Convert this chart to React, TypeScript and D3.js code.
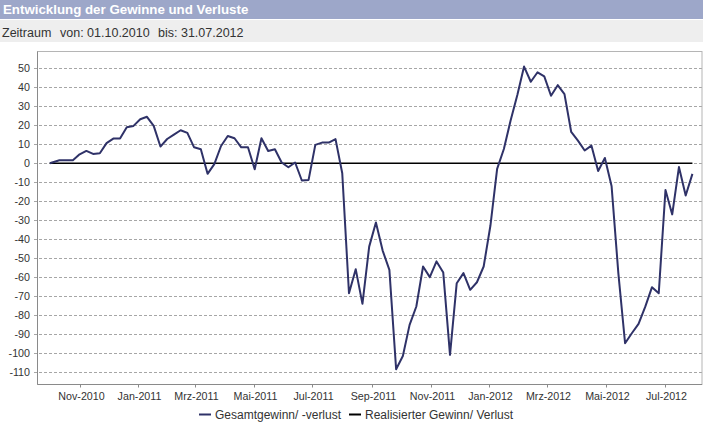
import React from "react";
import * as d3 from "d3";

const W = 703;
const H = 425;

const titleText = "Entwicklung der Gewinne und Verluste";
const periodLabel = "Zeitraum";
const periodFrom = "von: 01.10.2010";
const periodTo = "bis: 31.07.2012";

const firstDate = "2010-10-01";
const weeklyStart = "2010-10-11";
const domainStart = "2010-10-01";
const domainEnd = "2012-07-31";

const gesamt = [
  0, 1.6, 1.6, 1.6, 4.7, 6.5, 4.9, 5.3, 10.6, 13,
  13, 19, 19.7, 23.2, 24.5, 19.7, 8.8, 12.8, 15.1, 17.4,
  16, 8.4, 7.4, -5.6, -0.5, 9.1, 14.4, 13.2, 8.4, 8.4,
  -3.2, 13.2, 6.5, 7.4, 0.4, -2.1, 0.4, -9.1, -8.8, 9.7,
  10.9, 10.9, 12.7, -5.3, -68.6, -55.9, -74.2, -44, -31.3, -46.1,
  -56.3, -108.7, -101.7, -85.3, -75.6, -54.5, -60.1, -51.8, -57.7, -101.1,
  -63.3, -58, -66.8, -62.8, -54.5, -33, -3, 7.5, 22.5, 36,
  51, 43, 48, 45.8, 35.6, 41.2, 36.5, 16.5, 11.9, 6.7,
  9.3, -4.1, 2.8, -12.2, -58, -95, -89.7, -84.8, -75.7, -65.4,
  -68.6, -14.1, -27, -2, -17, -5.6,
];

const realisiert = [
  0, 0, 0, 0, 0, 0, 0, 0, 0, 0,
  0, 0, 0, 0, 0, 0, 0, 0, 0, 0,
  0, 0, 0, 0, 0, 0, 0, 0, 0, 0,
  0, 0, 0, 0, 0, 0, 0, 0, 0, 0,
  0, 0, 0, 0, 0, 0, 0, 0, 0, 0,
  0, 0, 0, 0, 0, 0, 0, 0, 0, 0,
  0, 0, 0, 0, 0, 0, 0, 0, 0, 0,
  0, 0, 0, 0, 0, 0, 0, 0, 0, 0,
  0, 0, 0, 0, 0, 0, 0, 0, 0, 0,
  0, 0, 0, 0, 0, 0,
];

const seriesNames = ["Gesamtgewinn/ -verlust", "Realisierter Gewinn/ Verlust"];
const seriesColors = ["#2f3268", "#000000"];

const yTicks = [50, 40, 30, 20, 10, 0, -10, -20, -30, -40, -50, -60, -70, -80, -90, -100, -110];
const yDomain = [-116.5, 58.7];

const xTickDates = [
  "2010-11-01", "2011-01-01", "2011-03-01", "2011-05-01", "2011-07-01", "2011-09-01",
  "2011-11-01", "2012-01-01", "2012-03-01", "2012-05-01", "2012-07-01",
];
const xTickLabels = [
  "Nov-2010", "Jan-2011", "Mrz-2011", "Mai-2011", "Jul-2011", "Sep-2011",
  "Nov-2011", "Jan-2012", "Mrz-2012", "Mai-2012", "Jul-2012",
];

const FONT = "'Liberation Sans', Arial, sans-serif";

export default function App() {
  const parse = d3.timeParse("%Y-%m-%d");
  const dates: Date[] = [
    parse(firstDate) as Date,
    ...d3.range(gesamt.length - 1).map((i) => d3.timeDay.offset(parse(weeklyStart) as Date, 7 * i)),
  ];

  const plot = { left: 37.5, right: 702, top: 51.5, bottom: 384.5 };

  const x = d3
    .scaleTime()
    .domain([parse(domainStart) as Date, parse(domainEnd) as Date])
    .range([49.8, 49.8 + 669 * 0.962]);
  const y = d3.scaleLinear().domain(yDomain).range([384, 52]);

  const line = d3
    .line<number>()
    .x((_, i) => x(dates[i]))
    .y((d) => y(d));

  const legendItems = [
    { name: seriesNames[0], color: seriesColors[0], x: 199 },
    { name: seriesNames[1], color: seriesColors[1], x: 349 },
  ];

  return (
    <div>
      <style>{`body{margin:0}`}</style>
      <svg width={W} height={H} style={{ display: "block", fontFamily: FONT }}>
        <rect x={0} y={0} width={W} height={H} fill="#ffffff" />
        {/* header */}
        <rect x={0} y={0} width={W} height={19} fill="#9da7c9" />
        <text x={3} y={14} fill="#ffffff" fontWeight="bold" fontSize={13.3}>
          {titleText}
        </text>
        <rect x={0} y={20} width={W} height={22} fill="#eeeeee" />
        <text x={2} y={36.5} fill="#333333" fontSize={12.5}>
          {periodLabel}
        </text>
        <text x={60} y={36.5} fill="#333333" fontSize={12.5}>
          {periodFrom}
        </text>
        <text x={158} y={36.5} fill="#333333" fontSize={12.5}>
          {periodTo}
        </text>

        {/* grid */}
        {yTicks.map((t) => {
          const yy = Math.round(y(t)) + 0.5;
          return (
            <g key={t}>
              <line
                x1={34}
                x2={plot.right}
                y1={yy}
                y2={yy}
                stroke="#a6a6a6"
                strokeDasharray="3,2"
                strokeWidth={1}
              />
              <text x={30} y={yy} dy="0.35em" textAnchor="end" fontSize={10.7} fill="#333333">
                {t}
              </text>
            </g>
          );
        })}

        {/* frame */}
        <rect
          x={plot.left}
          y={plot.top}
          width={plot.right - plot.left}
          height={plot.bottom - plot.top}
          fill="none"
          stroke="#b5b5b5"
        />
        <line x1={plot.left} x2={plot.left} y1={plot.top} y2={plot.bottom} stroke="#8a8a8a" />
        <line x1={plot.left} x2={plot.right} y1={plot.bottom} y2={plot.bottom} stroke="#8a8a8a" />

        {/* x ticks */}
        {xTickDates.map((d, i) => {
          const xx = Math.round(x(parse(d) as Date)) + 0.5;
          return (
            <g key={d}>
              <line x1={xx} x2={xx} y1={plot.bottom} y2={plot.bottom + 3} stroke="#8a8a8a" />
              <text x={xx + 1} y={399.5} textAnchor="middle" fontSize={10.7} fill="#333333">
                {xTickLabels[i]}
              </text>
            </g>
          );
        })}

        {/* series */}
        <path d={line(realisiert) || ""} fill="none" stroke={seriesColors[1]} strokeWidth={1.5} />
        <path
          d={line(gesamt) || ""}
          fill="none"
          stroke={seriesColors[0]}
          strokeWidth={2}
          strokeLinejoin="round"
        />

        {/* legend */}
        {legendItems.map((it) => (
          <g key={it.name}>
            <line x1={it.x} x2={it.x + 12} y1={414.5} y2={414.5} stroke={it.color} strokeWidth={2} />
            <text x={it.x + 16} y={418.5} fontSize={12} fill="#333333">
              {it.name}
            </text>
          </g>
        ))}
      </svg>
    </div>
  );
}
